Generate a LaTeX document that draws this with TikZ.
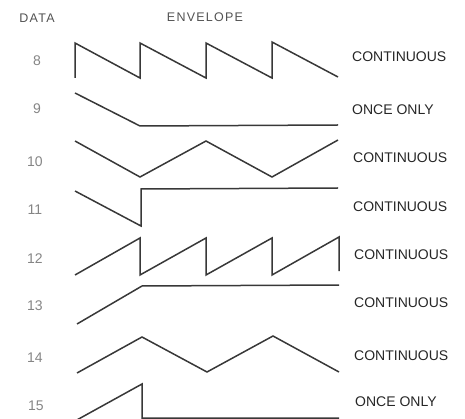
\documentclass[tikz,border=0pt]{standalone}
\usepackage{fontspec}
\setmainfont{Liberation Sans}
\newfontfamily\hdrfont[LetterSpace=10]{Liberation Sans}
\begin{document}
\begin{tikzpicture}[x=1pt,y=-1pt,
  wave/.style={line width=1.5pt,draw=black!78,line join=miter},
  numlbl/.style={text=black!48,font=\fontsize{14}{16}\selectfont,anchor=center,inner sep=0pt},
  modelbl/.style={text=black!85,font=\fontsize{14}{16}\selectfont,anchor=west,inner sep=0pt},
  hdrlbl/.style={text=black!68,font=\hdrfont\fontsize{12.5}{14}\selectfont,anchor=center,inner sep=0pt}]
\useasboundingbox (0,0) rectangle (465,419);
\clip (0,0) rectangle (465,419);
% headers
\node[hdrlbl] (hdata) at (37,18) {DATA};
\node[hdrlbl] (henv) at (205,17) {ENVELOPE};
% numbers
\node[numlbl] (n8) at (37,61) {8};
\node[numlbl] (n9) at (37,109) {9};
\node[numlbl] (n10) at (35,162) {10};
\node[numlbl] (n11) at (35,210) {11};
\node[numlbl] (n12) at (35,259) {12};
\node[numlbl] (n13) at (35,306) {13};
\node[numlbl] (n14) at (35,358) {14};
\node[numlbl] (n15) at (36,406) {15};
% modes
\node[modelbl] (m8) at (352,57) {CONTINUOUS};
\node[modelbl] (m9) at (352,110) {ONCE ONLY};
\node[modelbl] (m10) at (353,158) {CONTINUOUS};
\node[modelbl] (m11) at (353,207) {CONTINUOUS};
\node[modelbl] (m12) at (354,255) {CONTINUOUS};
\node[modelbl] (m13) at (354,303) {CONTINUOUS};
\node[modelbl] (m14) at (354,356) {CONTINUOUS};
\node[modelbl] (m15) at (355,402) {ONCE ONLY};
% row 8: sawtooth down
\draw[wave] (75,78) -- (75,43) -- (140,78) -- (140,43) -- (206,78) -- (206,43) -- (272,78) -- (272,42) -- (338,77);
% row 9: decay once
\draw[wave] (75,93) -- (140,126) -- (338,125);
% row 10: triangle starting down
\draw[wave] (75,141) -- (140,177) -- (206,141) -- (272,177) -- (338,140);
% row 11: decay then hold high
\draw[wave] (75,191) -- (141,226) -- (141,189) -- (338,188);
% row 12: sawtooth up
\draw[wave] (75,275) -- (140,238) -- (140,275) -- (206,238) -- (206,275) -- (272,238) -- (272,275) -- (339,237) -- (339,271);
% row 13: attack then hold
\draw[wave] (77,324) -- (142,286) -- (339,285);
% row 14: triangle starting up
\draw[wave] (77,373) -- (142,337) -- (207,372) -- (273,336) -- (339,372);
% row 15: attack once then off
\draw[wave] (75,421) -- (142,384) -- (142,418) -- (339,418);
\end{tikzpicture}
\end{document}
